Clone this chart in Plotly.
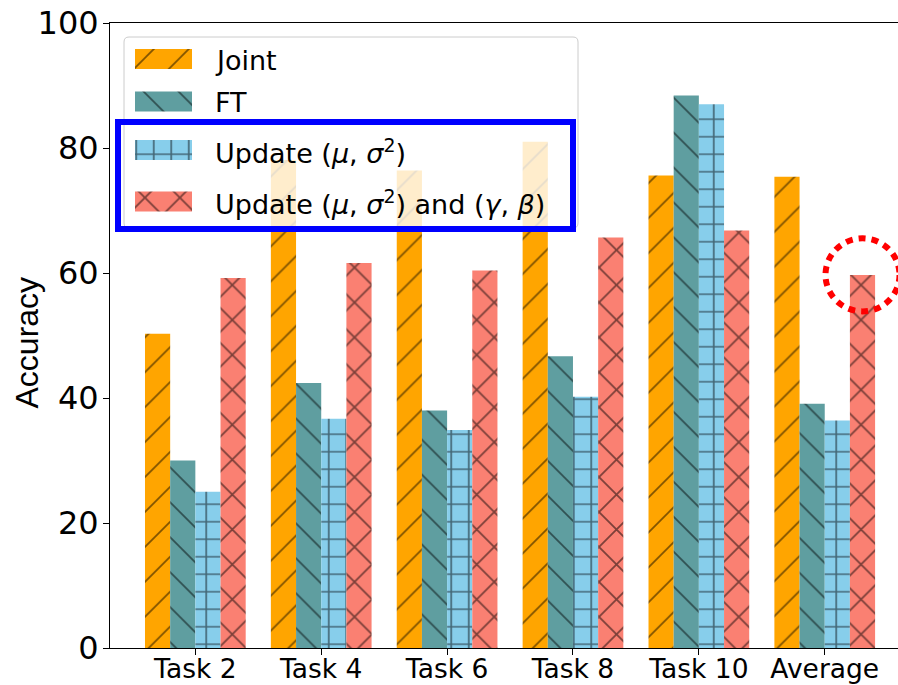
import plotly.graph_objects as go

# ---------------- data ----------------
categories = ["Task 2", "Task 4", "Task 6", "Task 8", "Task 10", "Average"]
joint = [50.3, 78.1, 76.4, 81.0, 75.6, 75.4]
ft = [30.0, 42.4, 38.0, 46.7, 88.4, 39.1]
update_ms = [25.0, 36.7, 34.9, 40.2, 87.0, 36.4]
update_ms_gb = [59.2, 61.6, 60.4, 65.7, 66.8, 59.7]
y_ticks = [0, 20, 40, 60, 80, 100]
series_names = [
    "Joint",
    "FT",
    "Update (<i>μ</i>, <i>σ</i><sup>2</sup>)",
    "Update (<i>μ</i>, <i>σ</i><sup>2</sup>) and (<i>γ</i>, <i>β</i>)",
]
series_values = [joint, ft, update_ms, update_ms_gb]

# ---------------- style ----------------
W, H = 898, 685
ML, MR, MT, MB = 110, 0, 23, 37
PLOT_W = W - ML - MR
PLOT_H = H - MT - MB
colors = ["#FFA500", "#5F9EA0", "#87CEEB", "#FA8072"]
hatches = ["/", "\\", "+", "x"]
hatch_sizes = [24.7, 24.7, 17.5, 24.7]
hatch_solidity = [0.07, 0.07, 0.18, 0.14]
TICK_FONT = "DejaVu Sans"
X_RANGE = [-0.678, 5.582]

# legend layout (page pixels, through an invisible pixel-scaled overlay axis pair)
LEG_BOX = (124, 37, 578, 228)
LEG_ROWS = [59, 101.5, 150, 201.5]
LEG_SW_X0, LEG_SW_LEN, LEG_SW_H = 135, 57, 20
LEG_TEXT_X = 213
HILITE_BOX = (118, 122, 573, 229)

fig = go.Figure()

for name, vals, col, hat, hs, sol in zip(series_names, series_values, colors,
                                         hatches, hatch_sizes, hatch_solidity):
    fig.add_trace(go.Bar(
        x=categories, y=vals, name=name, showlegend=False,
        marker=dict(color=col, line=dict(width=0),
                    pattern=dict(shape=hat, size=hs, solidity=sol,
                                 fgcolor="black", bgcolor=col, fillmode="overlay")),
        xaxis="x", yaxis="y",
    ))

# legend swatches
for i, (col, hat, hs, sol) in enumerate(zip(colors, hatches, hatch_sizes, hatch_solidity)):
    fig.add_trace(go.Bar(
        orientation="h", x=[LEG_SW_LEN], y=[LEG_ROWS[i]], base=[LEG_SW_X0],
        width=[LEG_SW_H], offset=-LEG_SW_H / 2, showlegend=False, hoverinfo="skip",
        marker=dict(color=col, line=dict(width=0),
                    pattern=dict(shape=hat, size=hs, solidity=sol,
                                 fgcolor="black", bgcolor=col, fillmode="overlay")),
        xaxis="x2", yaxis="y2",
    ))

x0, y0, x1, y1 = LEG_BOX
r = 5
box_path = (f"M{x0+r},{y0} L{x1-r},{y0} Q{x1},{y0} {x1},{y0+r} L{x1},{y1-r} "
            f"Q{x1},{y1} {x1-r},{y1} L{x0+r},{y1} Q{x0},{y1} {x0},{y1-r} "
            f"L{x0},{y0+r} Q{x0},{y0} {x0+r},{y0} Z")

shapes = [
    dict(type="path", path=box_path, xref="x2", yref="y2", layer="below",
         fillcolor="rgba(255,255,255,0.8)", line=dict(color="#cccccc", width=1)),
    dict(type="rect", xref="x2", yref="y2", layer="above",
         x0=HILITE_BOX[0], y0=HILITE_BOX[1], x1=HILITE_BOX[2], y1=HILITE_BOX[3],
         line=dict(color="#0000FF", width=6), fillcolor="rgba(0,0,0,0)"),
]

# red dotted circle around the top of the "Average" bar of the last series
cx = len(categories) - 1 + 0.3
cy = update_ms_gb[-1]
rx, ry = 37 / (PLOT_W / (X_RANGE[1] - X_RANGE[0])), 36.5 / (PLOT_H / 100)
shapes.append(dict(type="circle", xref="x", yref="y", layer="above",
                   x0=cx - rx, x1=cx + rx, y0=cy - ry, y1=cy + ry,
                   line=dict(color="#FF0000", width=6, dash="7px,6px"),
                   fillcolor="rgba(0,0,0,0)"))

annotations = []
for i, name in enumerate(series_names):
    annotations.append(dict(text=name, xref="x2", yref="y2", x=LEG_TEXT_X, y=LEG_ROWS[i] + 1,
                            xanchor="left", yanchor="middle", showarrow=False,
                            font=dict(family=TICK_FONT, size=27, color="black")))

annotations.append(dict(text="Accuracy", xref="paper", yref="paper",
                        x=(26 - ML) / PLOT_W, y=(H - MB - 342.5) / PLOT_H,
                        xanchor="center", yanchor="middle", textangle=-90, showarrow=False,
                        font=dict(family="Liberation Sans, Arial", size=32, color="black")))

fig.update_layout(
    template="none",
    width=W, height=H,
    margin=dict(l=ML, r=MR, t=MT, b=MB, pad=0, autoexpand=False),
    paper_bgcolor="white", plot_bgcolor="rgba(0,0,0,0)",
    barmode="group", bargap=0.2, bargroupgap=0,
    showlegend=False,
    shapes=shapes, annotations=annotations,
    xaxis=dict(type="category", range=X_RANGE, showline=True, linecolor="black",
               linewidth=1, mirror=True, ticks="outside", ticklen=6, tickwidth=1,
               tickcolor="black", showgrid=False, zeroline=False, automargin=False,
               ticklabelstandoff=-9,
               tickfont=dict(family=TICK_FONT, size=26.5, color="black")),
    yaxis=dict(range=[0, 100], tickvals=y_ticks, showline=True, linecolor="black",
               linewidth=1, ticks="outside", ticklen=6, tickwidth=1, tickcolor="black",
               showgrid=False, zeroline=False, automargin=False,
               ticklabelstandoff=-2,
               tickfont=dict(family=TICK_FONT, size=32, color="black")),
    xaxis2=dict(domain=[0, 1], range=[ML, W - MR], anchor="y2", visible=False,
                automargin=False),
    yaxis2=dict(domain=[0, 1], range=[H - MB, MT], anchor="x2", visible=False,
                automargin=False),
)

fig.write_html("out.html", config={"displayModeBar": False},
               post_script="document.body.style.margin='0';document.body.style.overflow='hidden';")
